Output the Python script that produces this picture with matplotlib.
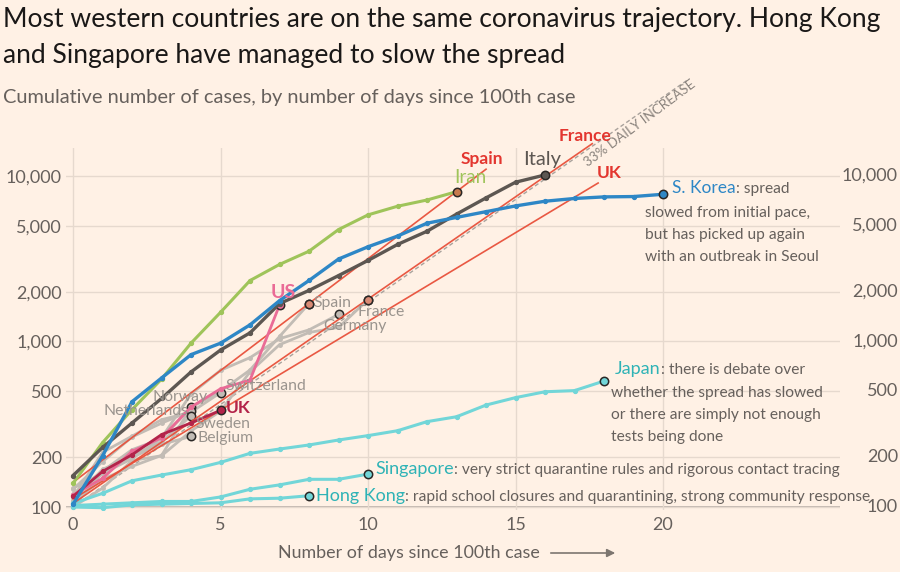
import matplotlib
matplotlib.use("Agg")
import matplotlib.pyplot as plt
import numpy as np

plt.rcParams['font.family'] = ['Lato', 'DejaVu Sans']

# ---------------- data (cumulative cases by day since 100th case) ----------------
iran = [139, 245, 388, 593, 978, 1501, 2336, 2922, 3513, 4747, 5823, 6566, 7161, 8042]
italy = [155, 229, 322, 453, 655, 888, 1128, 1694, 2036, 2502, 3089, 3858, 4636, 5883, 7375, 9172, 10149]
skorea = [104, 204, 433, 602, 833, 977, 1261, 1766, 2337, 3150, 3736, 4335, 5186, 5621, 6088, 6593,
          7041, 7314, 7478, 7513, 7755]
us = [118, 149, 217, 262, 402, 518, 585, 1663]
spain = [120, 165, 222, 259, 400, 500, 673, 1073, 1695]
france = [100, 130, 191, 204, 288, 380, 656, 957, 1134, 1217, 1792]
germany = [130, 159, 196, 262, 482, 670, 799, 1040, 1176, 1457]
switzerland = [114, 214, 268, 337, 374, 491]
uk = [116, 164, 207, 274, 322, 384]
norway = [108, 147, 176, 205, 400]
netherlands = [128, 188, 265, 321, 382]
sweden = [101, 161, 203, 248, 355]
belgium = [109, 169, 200, 239, 267]
japan = [105, 121, 144, 156, 168, 186, 211, 224, 237, 254, 270, 289, 328, 351, 413, 458, 497, 505, 577]
singapore = [102, 104, 106, 108, 108, 115, 128, 136, 147, 147, 158]
hongkong = [100, 99, 103, 104, 105, 106, 112, 113, 117]

# projection lines: (start value, daily growth factor, last day)
proj_names = ["Spain", "France", "UK"]
proj_start = [141, 105, 112]
proj_growth = [1.365, 1.329, 1.28]
proj_end = [14.0, 17.6, 17.8]
ref_growth = 1.33          # 33% daily increase reference
ref_end = 20.9

yticks = [100, 200, 500, 1000, 2000, 5000, 10000]
ytick_labels = ["100", "200", "500", "1,000", "2,000", "5,000", "10,000"]
xticks = [0, 5, 10, 15, 20]

# ---------------- style ----------------
BG = "#FFF1E5"
GREY_TXT = "#66605c"
LIGHT_GREY = "#c2bcb5"
LABEL_GREY = "#9a948e"
RED = "#e8503a"
RED_TXT = "#e3362f"
TEAL_LINE = "#72d6d8"
TEAL_TXT = "#2fb3b6"
BLUE = "#2e87c6"
GREEN = "#9fc45a"
ITALY_C = "#5d5752"
US_C = "#ea6b96"
UK_C = "#b3244a"
TICK_FS = 13
DESC_FS = 11.2

fig = plt.figure(figsize=(9, 5.72), dpi=100, facecolor=BG)
W, H = 900, 572
ax = fig.add_axes([66 / W, 1 - 510 / H, (840 - 66) / W, (510 - 148) / H])
ax.set_facecolor(BG)
ax.set_yscale("log")
ax.set_xlim(-0.24, 26.0)
ax.set_ylim(100 * 10 ** (-3 / 165.5), 100 * 10 ** (359 / 165.5))

for s in ax.spines.values():
    s.set_visible(False)
ax.set_yticks(yticks)
ax.set_yticklabels(ytick_labels)
ax.yaxis.set_minor_locator(matplotlib.ticker.NullLocator())
ax.set_xticks(xticks)
ax.set_xticklabels([str(x) for x in xticks])
ax.tick_params(axis="both", length=0, labelsize=TICK_FS, labelcolor=GREY_TXT)
ax.tick_params(axis="y", pad=3)
ax.tick_params(axis="x", pad=5)
ax.grid(True, which="major", color="#e6d9ce", lw=1.0, zorder=0)
ax.axhline(100, color="#b5aca5", lw=1.2, zorder=1)

# right side tick labels
ytr = ax.get_yaxis_transform()
for v, lab_ in zip(yticks, ytick_labels):
    ax.text((898 - 66) / (840 - 66), v, lab_, transform=ytr, ha="right", va="center",
            fontsize=TICK_FS, color=GREY_TXT, clip_on=False)


def series(vals, color, lw=2.0, z=3, ms=2.8, end=True, endfc=None):
    d = np.arange(len(vals))
    ax.plot(d, vals, color=color, lw=lw, zorder=z, solid_capstyle="round",
            marker="o", ms=ms, mec=color, mfc=color)
    if end:
        ax.plot(d[-1], vals[-1], "o", ms=6, mfc=endfc if endfc else color, mec="#2a2725",
                mew=1.1, zorder=z + 0.5)
    return d[-1], vals[-1]


# reference 33% line (dashed)
dref = np.linspace(0, ref_end, 200)
ax.plot(dref, 100 * ref_growth ** dref, color="#a9a29c", lw=1.0, ls=(0, (3, 2)),
        zorder=2, clip_on=False)

# grey countries
ends = {}
for name, vals in [("Spain", spain), ("France", france), ("Germany", germany),
                   ("Switzerland", switzerland), ("Norway", norway),
                   ("Netherlands", netherlands), ("Sweden", sweden), ("Belgium", belgium)]:
    ends[name] = series(vals, LIGHT_GREY, lw=2.0, z=3, ms=2.5, endfc=LIGHT_GREY)

# projection red lines
proj_ends = {}
for n, s0, g, e in zip(proj_names, proj_start, proj_growth, proj_end):
    dd = np.linspace(0, e, 100)
    ax.plot(dd, s0 * g ** dd, color=RED, lw=1.2, zorder=4, clip_on=False, alpha=0.95)
    proj_ends[n] = (e, s0 * g ** e)

ends["Japan"] = series(japan, TEAL_LINE, lw=2.2, z=3)
ends["Singapore"] = series(singapore, TEAL_LINE, lw=2.2, z=3)
ends["Hong Kong"] = series(hongkong, TEAL_LINE, lw=2.2, z=3)
ends["US"] = series(us, US_C, lw=2.0, z=5)
ends["UK"] = series(uk, UK_C, lw=2.0, z=5)
ends["Iran"] = series(iran, GREEN, lw=2.2, z=6, endfc="#c77a4e")
ends["Italy"] = series(italy, ITALY_C, lw=2.4, z=6)
ends["S. Korea"] = series(skorea, BLUE, lw=2.4, z=6)

for n in ["Spain", "France"]:
    x, y = ends[n]
    ax.plot(x, y, "o", ms=6, mfc="#d98a74", mec="#2a2725", mew=1.1, zorder=7)


def lab(key_xy, text, dx, dy, color, size=11, weight="normal", ha="left", va="center", z=8):
    return ax.annotate(text, xy=key_xy, xytext=(dx, -dy), textcoords="offset pixels",
                       ha=ha, va=va, color=color, fontsize=size, fontweight=weight, zorder=z,
                       annotation_clip=False)


fig.canvas.draw()
renderer = fig.canvas.get_renderer()


def lab_pair(key_xy, t1, t2, dx, dy, c1, c2, s1=13, s2=DESC_FS, w1="normal"):
    a = lab(key_xy, t1, dx, dy, c1, size=s1, weight=w1, va="baseline")
    bb = a.get_window_extent(renderer)
    x_disp, _ = ax.transData.transform(key_xy)
    lab(key_xy, t2, bb.x1 - x_disp, dy, c2, size=s2, va="baseline")


# grey labels
GFS = 11.3
lab(ends["Spain"], "Spain", 4, -1, LABEL_GREY, size=GFS)
lab(ends["France"], "France", -11, 12, LABEL_GREY, size=GFS)
lab(ends["Germany"], "Germany", -15, 12, LABEL_GREY, size=GFS)
lab(ends["Switzerland"], "Switzerland", 5, -7, LABEL_GREY, size=GFS)
lab(ends["Norway"], "Norway", -11, -10, LABEL_GREY, size=GFS, ha="center")
lab(ends["Netherlands"], "Netherlands", -3, 0, LABEL_GREY, size=GFS, ha="right")
lab(ends["Sweden"], "Sweden", 4, 8, LABEL_GREY, size=GFS)
lab(ends["Belgium"], "Belgium", 6, 2, LABEL_GREY, size=GFS)
lab(ends["UK"], "UK", 5, -2, UK_C, size=12.5, weight="bold")
lab(ends["US"], "US", 4, -12, US_C, size=14, weight="bold", ha="center")
lab(ends["Iran"], "Iran", 14, -14, GREEN, size=13.5, ha="center")
lab(ends["Italy"], "Italy", -3, -15, ITALY_C, size=14.5, ha="center")

# projection labels
lab(proj_ends["Spain"], "Spain", -4, -10, RED_TXT, size=12.5, weight="bold", ha="center")
lab(proj_ends["France"], "France", -7, -8, RED_TXT, size=12.5, weight="bold", ha="center")
lab(proj_ends["UK"], "UK", 11, -10, RED_TXT, size=12.5, weight="bold", ha="center")

# 33% label
p1 = ax.transData.transform((10, 100 * ref_growth ** 10))
p2 = ax.transData.transform((20, 100 * ref_growth ** 20))
ang = np.degrees(np.arctan2(p2[1] - p1[1], p2[0] - p1[0]))
ax.annotate("33% DAILY INCREASE", xy=(17.2, 100 * ref_growth ** 17.2), xytext=(2, -5),
            textcoords="offset pixels", rotation=ang + 2, rotation_mode="anchor",
            ha="left", va="top", fontsize=9.7, color="#8a837d", annotation_clip=False)

# annotated countries
lab_pair(ends["S. Korea"], "S. Korea", ": spread", 9, -1, BLUE, GREY_TXT, s1=12.5)
for i, t in enumerate(["slowed from initial pace,", "but has picked up again",
                       "with an outbreak in Seoul"]):
    lab(ends["S. Korea"], t, -18, 23 + 22 * i, GREY_TXT, size=DESC_FS, va="baseline")

lab_pair(ends["Japan"], "Japan", ": there is debate over", 11, -7, TEAL_TXT, GREY_TXT)
for i, t in enumerate(["whether the spread has slowed", "or there are simply not enough",
                       "tests being done"]):
    lab(ends["Japan"], t, 7, 16 + 22 * i, GREY_TXT, size=DESC_FS, va="baseline")

lab_pair(ends["Singapore"], "Singapore",
         ": very strict quarantine rules and rigorous contact tracing", 7, 0,
         TEAL_TXT, GREY_TXT)
lab_pair(ends["Hong Kong"], "Hong Kong",
         ": rapid school closures and quarantining, strong community response", 7, 5,
         TEAL_TXT, GREY_TXT)

# titles
fig.text(3 / W, 1 - 20 / H, "Most western countries are on the same coronavirus trajectory. Hong Kong",
         fontsize=19.1, color="#1a1817", ha="left", va="center")
fig.text(3 / W, 1 - 55 / H, "and Singapore have managed to slow the spread",
         fontsize=19.1, color="#1a1817", ha="left", va="center")
fig.text(3 / W, 1 - 98 / H, "Cumulative number of cases, by number of days since 100th case",
         fontsize=14.4, color=GREY_TXT, ha="left", va="center")

# x label with arrow
fig.text(409 / W, 1 - 553 / H, "Number of days since 100th case", fontsize=12.9,
         color=GREY_TXT, ha="center", va="center")
fig.add_artist(matplotlib.patches.FancyArrowPatch((548 / W, 1 - 553 / H), (618 / W, 1 - 553 / H),
                                                  transform=fig.transFigure, arrowstyle="-|>",
                                                  mutation_scale=12, color="#7d7670", lw=1.2))

fig.savefig("out.png", dpi=100, facecolor=BG)
